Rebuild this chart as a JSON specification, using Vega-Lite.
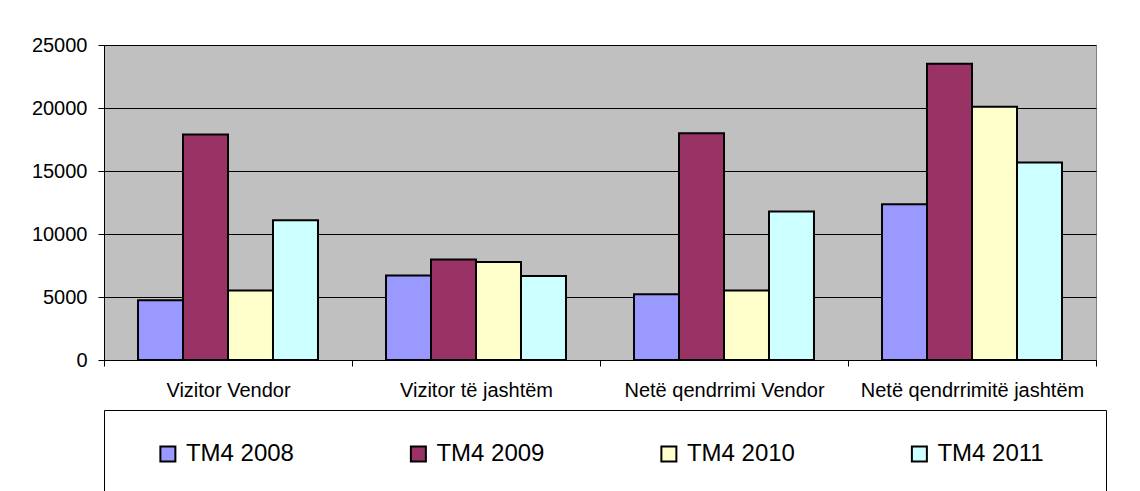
{
  "$schema": "https://vega.github.io/schema/vega-lite/v6.json",
  "background": "white",
  "padding": {"left": 30, "top": 34, "right": 0, "bottom": 0},
  "config": {"font": "Liberation Sans", "axis": {"labelFont": "Liberation Sans"}},
  "datasets": {
    "bars": [
      {"category": "Vizitor Vendor", "series": "TM4 2008", "value": 4750},
      {"category": "Vizitor Vendor", "series": "TM4 2009", "value": 17900},
      {"category": "Vizitor Vendor", "series": "TM4 2010", "value": 5520},
      {"category": "Vizitor Vendor", "series": "TM4 2011", "value": 11100},
      {"category": "Vizitor të jashtëm", "series": "TM4 2008", "value": 6710},
      {"category": "Vizitor të jashtëm", "series": "TM4 2009", "value": 7980},
      {"category": "Vizitor të jashtëm", "series": "TM4 2010", "value": 7770},
      {"category": "Vizitor të jashtëm", "series": "TM4 2011", "value": 6660},
      {"category": "Netë qendrrimi Vendor", "series": "TM4 2008", "value": 5210},
      {"category": "Netë qendrrimi Vendor", "series": "TM4 2009", "value": 17990},
      {"category": "Netë qendrrimi Vendor", "series": "TM4 2010", "value": 5520},
      {"category": "Netë qendrrimi Vendor", "series": "TM4 2011", "value": 11780},
      {"category": "Netë qendrrimitë jashtëm", "series": "TM4 2008", "value": 12360},
      {"category": "Netë qendrrimitë jashtëm", "series": "TM4 2009", "value": 23510},
      {"category": "Netë qendrrimitë jashtëm", "series": "TM4 2010", "value": 20100},
      {"category": "Netë qendrrimitë jashtëm", "series": "TM4 2011", "value": 15670}
    ],
    "series": [
      {"series": "TM4 2008"},
      {"series": "TM4 2009"},
      {"series": "TM4 2010"},
      {"series": "TM4 2011"}
    ]
  },
  "resolve": {"scale": {"x": "independent", "y": "independent", "color": "shared"}},
  "spacing": 4,
  "vconcat": [
    {
      "width": 992,
      "height": 315,
      "data": {"name": "bars"},
      "view": {"fill": "#c0c0c0", "stroke": "#808080", "strokeWidth": 1},
      "mark": {"type": "bar", "stroke": "black", "strokeWidth": 2},
      "encoding": {
        "x": {
          "field": "category", "type": "nominal",
          "sort": ["Vizitor Vendor", "Vizitor të jashtëm", "Netë qendrrimi Vendor", "Netë qendrrimitë jashtëm"],
          "scale": {"paddingInner": 0, "paddingOuter": 0},
          "axis": {"title": null, "labelAngle": 0, "labelFontSize": 20, "labelColor": "black", "labelPadding": 14, "tickSize": 6, "tickColor": "black", "tickBand": "extent", "domainColor": "black", "grid": false, "labelLimit": 300, "minExtent": 44, "maxExtent": 44}
        },
        "xOffset": {
          "field": "series", "type": "nominal",
          "sort": ["TM4 2008", "TM4 2009", "TM4 2010", "TM4 2011"],
          "scale": {"paddingInner": 0, "paddingOuter": 0.756}
        },
        "y": {
          "field": "value", "type": "quantitative",
          "scale": {"domain": [0, 25000], "nice": false},
          "axis": {"title": null, "values": [0, 5000, 10000, 15000, 20000, 25000], "format": "d", "labelFontSize": 20, "labelColor": "black", "labelPadding": 11, "tickSize": 6, "tickColor": "black", "domainColor": "black", "grid": true, "gridColor": "black", "gridOpacity": 1, "gridWidth": 1}
        },
        "color": {
          "field": "series", "type": "nominal",
          "scale": {"domain": ["TM4 2008", "TM4 2009", "TM4 2010", "TM4 2011"], "range": ["#9999ff", "#993366", "#ffffcc", "#ccffff"]},
          "legend": null
        }
      }
    },
    {
      "width": 1002,
      "height": 88,
      "data": {"name": "series"},
      "view": {"fill": "white", "stroke": "black", "strokeWidth": 1},
      "layer": [
        {
          "mark": {"type": "point", "shape": "square", "filled": true, "size": 225, "stroke": "black", "strokeWidth": 2, "opacity": 1},
          "encoding": {
            "x": {"field": "series", "type": "nominal", "bandPosition": 0.255, "scale": {"type": "band", "paddingInner": 0, "paddingOuter": 0}, "axis": null},
            "color": {"field": "series", "type": "nominal", "legend": null}
          }
        },
        {
          "mark": {"type": "text", "align": "left", "baseline": "middle", "dx": 18, "fontSize": 24, "font": "Liberation Sans", "color": "black"},
          "encoding": {
            "x": {"field": "series", "type": "nominal", "bandPosition": 0.255, "scale": {"type": "band", "paddingInner": 0, "paddingOuter": 0}, "axis": null},
            "text": {"field": "series"}
          }
        }
      ]
    }
  ]
}
